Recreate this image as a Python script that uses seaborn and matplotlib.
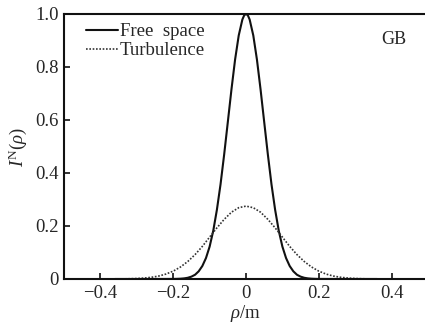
import matplotlib
matplotlib.use("Agg")
import matplotlib.pyplot as plt
import seaborn as sns
import pandas as pd

rho_free = [-0.36, -0.30, -0.25, -0.20, -0.19, -0.18, -0.17, -0.16, -0.15, -0.14, -0.13, -0.12, -0.11, -0.10,
            -0.09, -0.08, -0.07, -0.06, -0.05, -0.04, -0.03, -0.02, -0.01, -0.005, 0.00, 0.005,
            0.01, 0.02, 0.03, 0.04, 0.05, 0.06, 0.07, 0.08, 0.09, 0.10, 0.11, 0.12, 0.13, 0.14,
            0.15, 0.16, 0.17, 0.18, 0.19, 0.20, 0.25, 0.30, 0.36]
free_space = [0.0, 0.0, 0.0, 0.0002, 0.0005, 0.0011, 0.0023, 0.0046, 0.0089, 0.016, 0.029, 0.049, 0.079, 0.122,
              0.182, 0.261, 0.357, 0.470, 0.592, 0.715, 0.828, 0.919, 0.979, 0.995, 1.0, 0.995,
              0.979, 0.919, 0.828, 0.715, 0.592, 0.470, 0.357, 0.261, 0.182, 0.122, 0.079, 0.049, 0.029, 0.016,
              0.0089, 0.0046, 0.0023, 0.0011, 0.0005, 0.0002, 0.0, 0.0, 0.0]

rho_turb = [-0.36, -0.34, -0.32, -0.30, -0.28, -0.26, -0.24, -0.22, -0.20, -0.18, -0.16, -0.14, -0.12, -0.10,
            -0.08, -0.06, -0.04, -0.02, 0.00, 0.02, 0.04, 0.06, 0.08, 0.10, 0.12, 0.14, 0.16, 0.18,
            0.20, 0.22, 0.24, 0.26, 0.28, 0.30, 0.32, 0.34, 0.36]
turbulence = [0.0002, 0.0004, 0.0009, 0.0018, 0.0035, 0.0064, 0.0111, 0.0186, 0.0296, 0.0453, 0.066, 0.092, 0.123, 0.158,
              0.193, 0.225, 0.252, 0.269, 0.275, 0.269, 0.252, 0.225, 0.193, 0.158, 0.123, 0.092, 0.066, 0.0453,
              0.0296, 0.0186, 0.0111, 0.0064, 0.0035, 0.0018, 0.0009, 0.0004, 0.0002]

x_ticks = [-0.4, -0.2, 0.0, 0.2, 0.4]
x_tick_labels = ["\u22120.4", "\u22120.2", "0", "0.2", "0.4"]
y_ticks = [0.0, 0.2, 0.4, 0.6, 0.8, 1.0]
y_tick_labels = ["0", "0.2", "0.4", "0.6", "0.8", "1.0"]

df = pd.concat([
    pd.DataFrame({"rho": rho_free, "I": free_space, "series": "Free  space"}),
    pd.DataFrame({"rho": rho_turb, "I": turbulence, "series": "Turbulence"}),
])

sns.set_style("ticks")
plt.rcParams["font.family"] = ["Liberation Serif", "DejaVu Serif"]
plt.rcParams["mathtext.fontset"] = "custom"
plt.rcParams["mathtext.rm"] = "Liberation Serif"
plt.rcParams["mathtext.it"] = "Liberation Serif:italic"

fig = plt.figure(figsize=(4.25, 3.24), dpi=100)
ax = fig.add_axes([0.1506, 0.1389, 0.8565, 0.818])

sns.lineplot(data=df, x="rho", y="I", hue="series", style="series",
             palette={"Free  space": "#111111", "Turbulence": "#333333"},
             dashes={"Free  space": "", "Turbulence": (1, 1)},
             sort=False, estimator=None, ax=ax, legend=False)
lines = ax.get_lines()
lines[0].set_linewidth(1.5)
lines[1].set_linewidth(1.2)

ax.set_xlim(-0.5, 0.5)
ax.set_ylim(0, 1.0)
ax.set_xticks(x_ticks)
ax.set_xticklabels(x_tick_labels)
ax.set_yticks(y_ticks)
ax.set_yticklabels(y_tick_labels)
ax.tick_params(direction="in", length=4, width=1.2, labelsize=13.5, pad=4, color="#111111")
for s in ["left", "bottom", "top"]:
    ax.spines[s].set_visible(True)
    ax.spines[s].set_linewidth(1.5)
    ax.spines[s].set_color("#111111")
ax.spines["right"].set_visible(False)

ax.set_xlabel(r"$\rho$/m", fontsize=13.5, labelpad=1)
ax.set_ylabel(r"$I^{\rm N}(\rho)$", fontsize=13.5, labelpad=4)

leg = ax.legend(lines, ["Free  space", "Turbulence"], loc="upper left",
                bbox_to_anchor=(0.03, 1.008), frameon=False, fontsize=13.5,
                handlelength=1.7, handletextpad=0.1, labelspacing=0.1,
                borderaxespad=0.2)

ax.text(0.905, 0.905, "GB", transform=ax.transAxes, fontsize=13, ha="center", va="center")

fig.savefig("out.png", dpi=100)
